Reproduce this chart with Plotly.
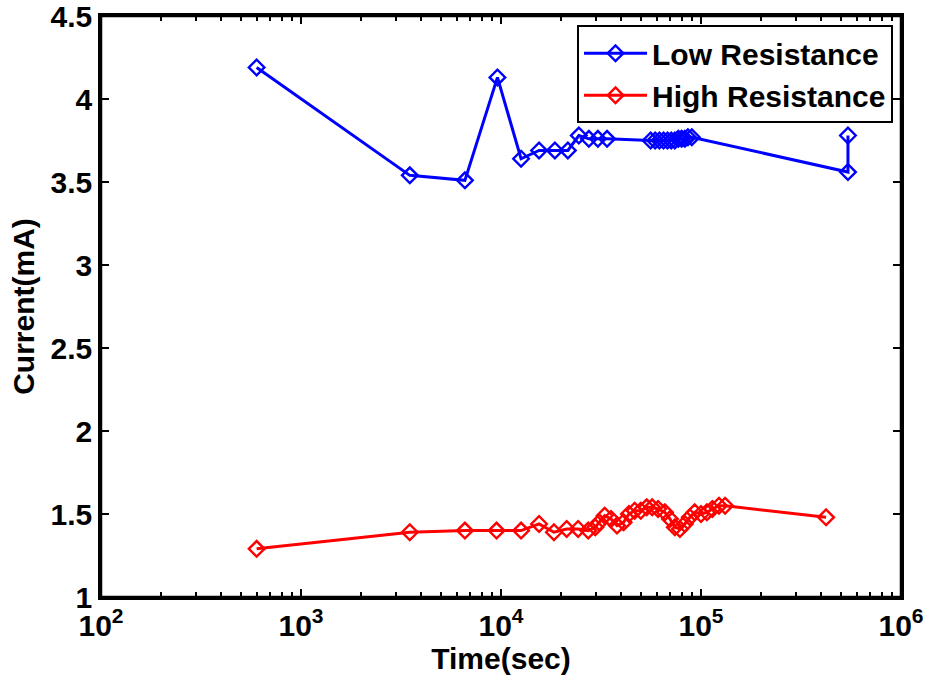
import plotly.graph_objects as go

# Low Resistance series
low_time = [600, 3500, 6600, 9600, 12600, 15500, 18600, 21600, 24500, 27500, 30500, 33900,
            56000, 59000, 62000, 65000, 68000, 71000, 74000, 77000, 80000, 83000, 86000, 90000,
            543000, 543000]
low_current = [4.19, 3.54, 3.51, 4.13, 3.64, 3.69, 3.69, 3.69, 3.78, 3.76, 3.76, 3.76,
               3.75, 3.75, 3.75, 3.75, 3.75, 3.75, 3.75, 3.76, 3.76, 3.76, 3.77, 3.77,
               3.56, 3.78]

# High Resistance series
high_time = [600, 3500, 6600, 9500, 12600, 15500, 18400, 21300, 24300, 27300, 29600, 31000,
             33000, 35500, 38000, 41000, 43600, 46600, 50000, 53500, 57000, 61000, 66000,
             70000, 74000, 78500, 83000, 88000, 93000, 100000, 107000, 114000, 123000,
             132000, 422000]
high_current = [1.29, 1.39, 1.40, 1.40, 1.40, 1.44, 1.39, 1.41, 1.41, 1.40, 1.42, 1.45,
                1.49, 1.47, 1.43, 1.45, 1.50, 1.52, 1.52, 1.54, 1.54, 1.53, 1.51,
                1.47, 1.42, 1.41, 1.44, 1.48, 1.51, 1.50, 1.51, 1.53, 1.55,
                1.55, 1.48]

x_tick_vals = [100, 1000, 10000, 100000, 1000000]
x_tick_text = ["10<sup>2</sup>", "10<sup>3</sup>", "10<sup>4</sup>", "10<sup>5</sup>", "10<sup>6</sup>"]
x_minor_vals = [m * 10 ** e for e in range(2, 6) for m in range(2, 10)]
y_tick_vals = [1, 1.5, 2, 2.5, 3, 3.5, 4, 4.5]
y_tick_text = ["1", "1.5", "2", "2.5", "3", "3.5", "4", "4.5"]

FONT = "Liberation Sans, Arial, sans-serif"
FS = 30

fig = go.Figure()
fig.add_trace(go.Scatter(
    x=low_time, y=low_current, mode="lines+markers", name="Low Resistance",
    line=dict(color="#0000ff", width=3),
    marker=dict(symbol="diamond-open", size=12, color="#0000ff", line=dict(width=2.4, color="#0000ff")),
))
fig.add_trace(go.Scatter(
    x=high_time, y=high_current, mode="lines+markers", name="High Resistance",
    line=dict(color="#ff0000", width=3),
    marker=dict(symbol="diamond-open", size=12, color="#ff0000", line=dict(width=2.4, color="#ff0000")),
))
# empty helper trace so the overlay axis carrying the minor ticks is drawn
fig.add_trace(go.Scatter(x=[None], y=[None], xaxis="x2", yaxis="y", mode="markers",
                         showlegend=False, hoverinfo="skip"))

fig.update_layout(
    width=932, height=684,
    margin=dict(l=101, r=31, t=16, b=87),
    paper_bgcolor="white", plot_bgcolor="white",
    font=dict(family=FONT, size=FS, color="black"),
    showlegend=True,
    legend=dict(
        x=0.99, y=0.984, xanchor="right", yanchor="top",
        bgcolor="white", bordercolor="black", borderwidth=2,
        font=dict(family=FONT, size=FS, color="black", weight="bold"),
        itemwidth=63, tracegroupgap=0,
    ),
    xaxis=dict(
        type="log", range=[2, 6], automargin=False,
        tickmode="array", tickvals=x_tick_vals, ticktext=x_tick_text,
        ticks="inside", ticklen=8, tickwidth=2, tickcolor="black",
        showline=True, linewidth=2.5, linecolor="black", mirror="ticks",
        showgrid=False, zeroline=False, ticklabeloverflow="allow",
        tickfont=dict(family=FONT, size=FS, color="black", weight="bold"),
        title=dict(text="Time(sec)", font=dict(family=FONT, size=FS, color="black", weight="bold"), standoff=2),
    ),
    xaxis2=dict(
        type="log", range=[2, 6], overlaying="x", side="bottom", anchor="y",
        tickmode="array", tickvals=x_minor_vals, showticklabels=False,
        ticks="inside", ticklen=5, tickwidth=1.5, tickcolor="black",
        showline=False, mirror="ticks",
        showgrid=False, zeroline=False, automargin=False,
    ),
    yaxis=dict(
        range=[1, 4.5], automargin=False,
        tickmode="array", tickvals=y_tick_vals, ticktext=y_tick_text,
        ticks="inside", ticklen=8, tickwidth=2, tickcolor="black",
        showline=True, linewidth=2.5, linecolor="black", mirror="ticks",
        showgrid=False, zeroline=False, ticklabeloverflow="allow",
        tickfont=dict(family=FONT, size=FS, color="black", weight="bold"),
        title=dict(text="Current(mA)", font=dict(family=FONT, size=FS, color="black", weight="bold"), standoff=8),
    ),
    shapes=[dict(type="rect", xref="paper", yref="paper", x0=0, x1=1, y0=0, y1=1,
                 line=dict(color="black", width=2.5), layer="above")],
)

fig.write_html("out.html", config={"displayModeBar": False},
               post_script="document.body.style.margin='0';")
